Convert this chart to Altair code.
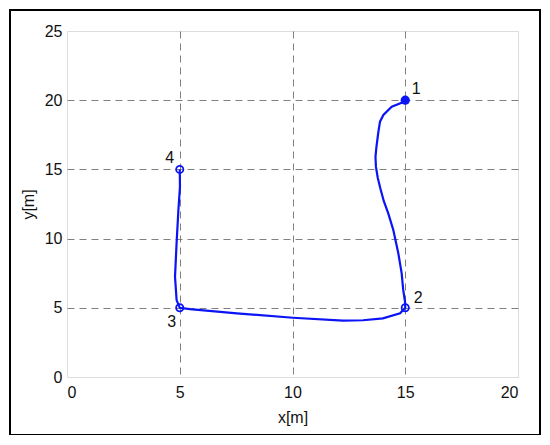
import altair as alt
import pandas as pd

# Trajectory (x[m], y[m]), in drawing order
path_x = [15.0, 14.84, 14.40, 14.03, 13.88, 13.80, 13.72, 13.68, 13.70, 13.78, 13.90, 14.05, 14.25, 14.47, 14.69, 14.84, 14.91, 14.99, 15.0,
          14.77, 14.01, 13.13, 12.24, 10.02, 7.53, 5.45, 5.0,
          4.98, 4.86, 4.79, 4.86, 4.94, 5.01, 5.0]
path_y = [20.0, 19.82, 19.53, 18.93, 18.45, 17.61, 16.60, 15.90, 15.20, 14.40, 13.60, 12.70, 11.80, 10.62, 8.96, 7.51, 6.29, 5.44, 5.0,
          4.60, 4.24, 4.10, 4.07, 4.28, 4.60, 4.91, 5.0,
          5.08, 5.56, 7.25, 9.68, 12.07, 13.75, 15.0]

# Waypoints
wp_x = [15, 15, 5, 5]
wp_y = [20, 5, 5, 15]
wp_label = ["1", "2", "3", "4"]
wp_filled = [True, False, False, False]

# label offsets (style)
label_dx = [11, 13, -8, -10]
label_dy = [-11, -10, 14, -11]

x_ticks = [0, 5, 10, 15, 20]
y_ticks = [0, 5, 10, 15, 20, 25]

path_df = pd.DataFrame({"x": path_x, "y": path_y, "order": list(range(len(path_x)))})
wp_df = pd.DataFrame({"x": wp_x, "y": wp_y, "label": wp_label, "filled": wp_filled})

BLUE = "#0a14f5"
FONT = "Liberation Sans"

xscale = alt.Scale(domain=[0, 20], nice=False, zero=False)
yscale = alt.Scale(domain=[0, 25], nice=False, zero=False)

grid_x_op = {"condition": {"test": "datum.value <= 0 || datum.value >= 20", "value": 0}, "value": 1}
grid_y_op = {"condition": {"test": "datum.value <= 0 || datum.value >= 25", "value": 0}, "value": 1}

xaxis = alt.Axis(values=x_ticks, title="x[m]", grid=True, gridDash=[7, 5], gridColor="#808080",
                 gridOpacity=grid_x_op, gridWidth=1, domain=False, ticks=False, labelPadding=7,
                 labelFontSize=16, labelFont=FONT, labelColor="#111", titleFont=FONT,
                 titleFontSize=16, titleFontWeight="normal", titleColor="#111", titlePadding=9)
yaxis = alt.Axis(values=y_ticks, title="y[m]", grid=True, gridDash=[7, 5], gridColor="#808080",
                 gridOpacity=grid_y_op, gridWidth=1, domain=False, ticks=False, labelPadding=5,
                 labelFontSize=16, labelFont=FONT, labelColor="#111", titleFont=FONT,
                 titleFontSize=16, titleFontWeight="normal", titleColor="#111", titlePadding=8)

line = alt.Chart(path_df).mark_line(color=BLUE, strokeWidth=2.2).encode(
    x=alt.X("x:Q", scale=xscale, axis=xaxis),
    y=alt.Y("y:Q", scale=yscale, axis=yaxis),
    order="order:Q",
)

filled_pts = alt.Chart(wp_df).transform_filter("datum.filled").mark_point(
    shape="circle", filled=True, size=85, color=BLUE, opacity=1
).encode(x=alt.X("x:Q", scale=xscale), y=alt.Y("y:Q", scale=yscale))

open_pts = alt.Chart(wp_df).transform_filter("!datum.filled").mark_point(
    shape="circle", filled=False, size=52, color=BLUE, strokeWidth=1.8, opacity=1
).encode(x=alt.X("x:Q", scale=xscale), y=alt.Y("y:Q", scale=yscale))

labels = []
for lab, dx, dy in zip(wp_label, label_dx, label_dy):
    labels.append(
        alt.Chart(wp_df).transform_filter(f"datum.label == '{lab}'").mark_text(
            dx=dx, dy=dy, fontSize=16, font=FONT, color="#111"
        ).encode(x=alt.X("x:Q", scale=xscale), y=alt.Y("y:Q", scale=yscale), text="label:N")
    )

frame = alt.Chart(pd.DataFrame({"a": [0]})).mark_rect(
    fill=None, stroke="black", strokeWidth=2, clip=False
).encode(x=alt.value(-57), x2=alt.value(473), y=alt.value(-21), y2=alt.value(404))

chart = alt.layer(line, filled_pts, open_pts, *labels, frame).properties(
    width=451, height=346,
    autosize=alt.AutoSizeParams(type="none"),
    padding={"left": 59, "top": 23, "right": 24, "bottom": 58},
).configure_view(stroke="#b0b0b0", strokeWidth=1.5).configure(background="white")

chart.save("out.html", embed_options={"renderer": "svg", "actions": False})
